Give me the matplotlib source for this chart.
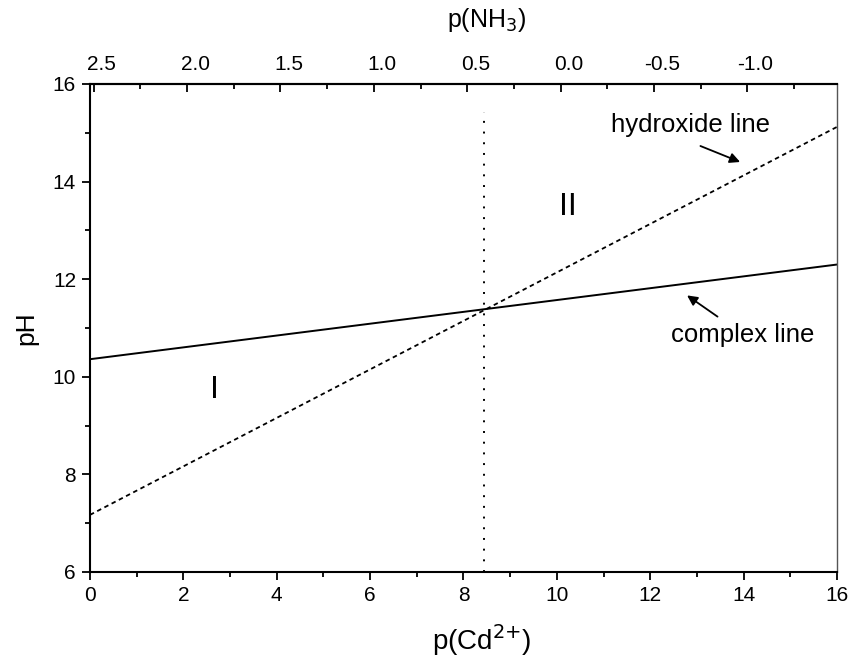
import matplotlib
matplotlib.use("Agg")
import matplotlib.pyplot as plt
import matplotlib.transforms as mtransforms
from matplotlib.ticker import MultipleLocator
import numpy as np

plt.rcParams["font.family"] = ["Liberation Sans", "DejaVu Sans"]

# data
pcd = [0, 16]
complex_ph = [10.36, 12.30]
hydroxide_ph = [7.17, 15.12]
cross_pcd = 8.44
cross_top = 15.43
nh3_ticks = [2.5, 2.0, 1.5, 1.0, 0.5, 0.0, -0.5, -1.0]


def cd_from_nh3(x):
    return 4.0 * (2.5 - np.asarray(x)) + 0.08


def nh3_from_cd(x):
    return 2.5 - (np.asarray(x) - 0.08) / 4.0


fig = plt.figure(figsize=(8.56, 6.57), dpi=100)
ax = fig.add_axes([0.1051, 0.1294, 0.8727, 0.7428])

ax.plot(pcd, complex_ph, color="black", lw=1.4)
ax.plot(pcd, hydroxide_ph, color="black", lw=1.3, ls=(0, (2.5, 2.0)))
ax.plot([cross_pcd, cross_pcd], [6, cross_top], color="black", lw=1.4, ls=(0, (1, 4.5)))

ax.set_xlim(0, 16)
ax.set_ylim(6, 16)
ax.xaxis.set_major_locator(MultipleLocator(2))
ax.xaxis.set_minor_locator(MultipleLocator(1))
ax.yaxis.set_major_locator(MultipleLocator(2))
ax.yaxis.set_minor_locator(MultipleLocator(1))
ax.tick_params(which="both", direction="out", labelsize=15, width=1.3, pad=4)
ax.tick_params(which="major", length=6)
ax.tick_params(which="minor", length=3.5)
for s in ax.spines.values():
    s.set_linewidth(1.5)
ax.spines["right"].set_linewidth(1.0)
ax.spines["right"].set_color("#555555")

ax.set_xlabel("p(Cd$^{2{+}}$)", fontsize=20)
ax.xaxis.set_label_coords(0.525, -0.139)
ax.xaxis.label.set_va("center")
ax.set_ylabel("pH", fontsize=19, labelpad=10)

top = ax.secondary_xaxis("top", functions=(nh3_from_cd, cd_from_nh3))
top.set_xticks(nh3_ticks)
top.set_xticklabels([f"{v:.1f}" for v in nh3_ticks])
top.xaxis.set_minor_locator(MultipleLocator(0.25))
top.tick_params(which="both", direction="in", labelsize=15, width=1.3, pad=7)
top.tick_params(which="major", length=6)
top.tick_params(which="minor", length=3.5)
top.spines["top"].set_linewidth(1.5)
shift = mtransforms.ScaledTranslation(0.08, 0, fig.dpi_scale_trans)
for lab in top.get_xticklabels():
    lab.set_transform(lab.get_transform() + shift)
# top axis title sits a bit right of centre in the reference
fig.text(487 / 856, 1 - 20 / 657, "p(NH$_3$)", fontsize=18, ha="center", va="center")

ax.text(2.66, 9.73, "I", fontsize=23, ha="center", va="center")
ax.text(10.24, 13.48, "II", fontsize=23, ha="center", va="center")

ax.text(12.87, 15.16, "hydroxide line", fontsize=18.5, ha="center", va="center")
ax.annotate("", xy=(13.98, 14.38), xytext=(13.02, 14.75),
            arrowprops=dict(arrowstyle="-|>", color="black", lw=1.3,
                            mutation_scale=15))
ax.text(13.98, 10.86, "complex line", fontsize=18.5, ha="center", va="center")
ax.annotate("", xy=(12.74, 11.70), xytext=(13.49, 11.20),
            arrowprops=dict(arrowstyle="-|>", color="black", lw=1.3,
                            mutation_scale=15))

fig.savefig("out.png", dpi=100)
